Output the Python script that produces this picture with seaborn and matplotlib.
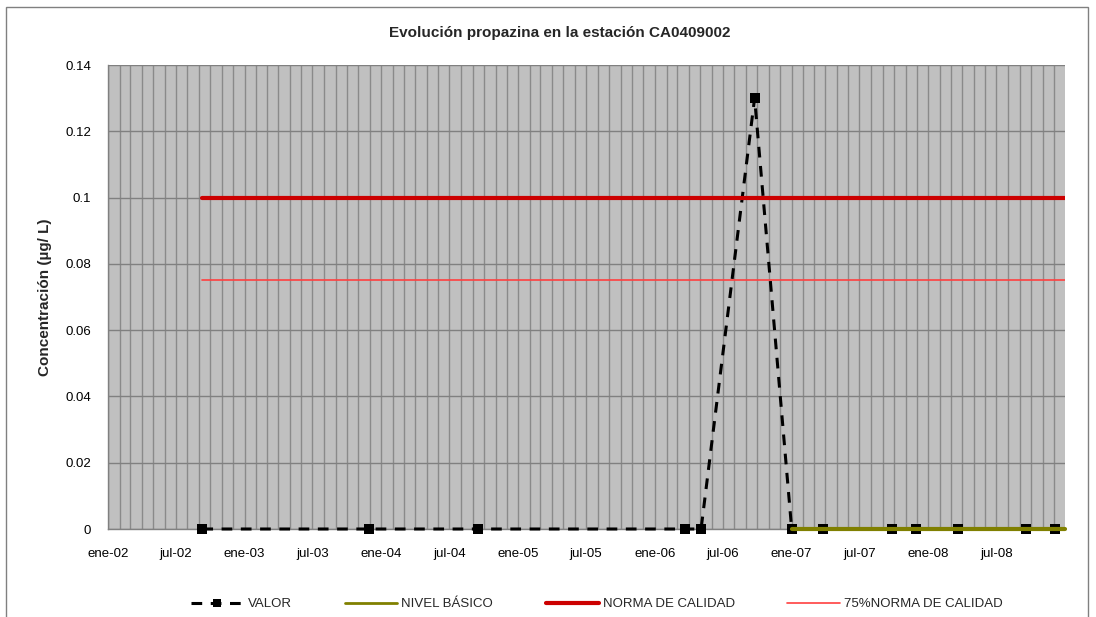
import pandas as pd
import numpy as np
import matplotlib
matplotlib.use('Agg')
import matplotlib.pyplot as plt
import matplotlib.dates as mdates
from matplotlib.patches import Rectangle
from matplotlib.lines import Line2D
import seaborn as sns

# datos
fechas_valor = ['2002-09-10', '2003-11-29', '2004-09-15', '2006-03-23', '2006-05-04',
                '2006-09-24', '2007-01-01', '2007-03-25', '2007-09-25', '2007-11-29',
                '2008-03-21', '2008-09-18', '2008-12-05']
valor = [0, 0, 0, 0, 0, 0.13, 0, 0, 0, 0, 0, 0, 0]

fechas_norma = ['2002-09-10', '2008-12-31']
norma = [0.1, 0.1]
norma_75 = [0.075, 0.075]

fechas_basico = ['2007-01-01', '2008-12-31']
nivel_basico = [0, 0]

ticks_y = [0, 0.02, 0.04, 0.06, 0.08, 0.1, 0.12, 0.14]
etiquetas_y = ['0', '0.02', '0.04', '0.06', '0.08', '0.1', '0.12', '0.14']

df_valor = pd.DataFrame({'fecha': pd.to_datetime(fechas_valor), 'valor': valor})
df_norma = pd.DataFrame({'fecha': pd.to_datetime(fechas_norma), 'norma': norma, 'norma75': norma_75})
df_basico = pd.DataFrame({'fecha': pd.to_datetime(fechas_basico), 'basico': nivel_basico})

sns.set_style('white')
plt.rcParams['font.family'] = ['Liberation Sans', 'DejaVu Sans']

fig = plt.figure(figsize=(10.96, 6.17), dpi=100)
ax = fig.add_axes([108 / 1096, 1 - 529 / 617, (1065 - 108) / 1096, (529 - 65) / 617])
ax.set_facecolor('#C0C0C0')

gris = '#808080'
estilo_valor = (0, (3.5, 2.8))
sns.lineplot(data=df_valor, x='fecha', y='valor', ax=ax, color='black', lw=2.2,
             marker='s', markersize=7, markeredgecolor='black', markeredgewidth=0,
             zorder=3, clip_on=False)
ax.lines[-1].set_linestyle(estilo_valor)
sns.lineplot(data=df_basico, x='fecha', y='basico', ax=ax, color='#808000', lw=3,
             zorder=4, clip_on=False)
sns.lineplot(data=df_norma, x='fecha', y='norma', ax=ax, color='#CC0000', lw=3, zorder=4)
sns.lineplot(data=df_norma, x='fecha', y='norma75', ax=ax, color='#FF4040', lw=1.2, zorder=4)

ax.set_xlim(pd.Timestamp('2002-01-01'), pd.Timestamp('2008-12-31'))
ax.set_ylim(0, 0.14)
ax.set_yticks(ticks_y)
ax.set_yticklabels(etiquetas_y)

ax.xaxis.set_major_locator(mdates.MonthLocator(bymonth=[1, 7]))
ax.xaxis.set_minor_locator(mdates.MonthLocator())
meses = {1: 'ene', 7: 'jul'}
ax.xaxis.set_major_formatter(plt.FuncFormatter(
    lambda v, p: f"{meses[mdates.num2date(v).month]}-{mdates.num2date(v).strftime('%y')}"))

ax.grid(True, which='major', axis='y', color=gris, lw=1, zorder=0)
ax.grid(True, which='both', axis='x', color='#8a8a8a', lw=1, zorder=0)
ax.set_axisbelow(True)

for s in ['top', 'right']:
    ax.spines[s].set_visible(False)
for s in ['left', 'bottom']:
    ax.spines[s].set_color(gris)
    ax.spines[s].set_linewidth(1)

ax.tick_params(axis='both', which='major', direction='out', length=5, color=gris,
               labelsize=9.5, labelcolor='black', pad=7)
ax.tick_params(axis='x', which='minor', length=0)
ax.tick_params(axis='x', which='major', pad=9)

ax.set_xlabel('')
ax.set_ylabel('Concentración (µg/ L)', fontsize=11, fontweight='bold', labelpad=10)
fig.text(560 / 1096, 1 - 33 / 617, 'Evolución propazina en la estación CA0409002',
         ha='center', va='center', fontsize=11, fontweight='bold')

# borde exterior del gráfico
fig.patches.append(Rectangle((6 / 1096, -0.05), (1088 - 6) / 1096, 1.05 - 7 / 617,
                             transform=fig.transFigure, fill=False, edgecolor=gris, lw=1))

handles = [
    Line2D([], [], color='black', lw=2.2, ls=estilo_valor, marker='s', markersize=6,
           markeredgewidth=0),
    Line2D([], [], color='#808000', lw=2),
    Line2D([], [], color='#CC0000', lw=3),
    Line2D([], [], color='#FF4040', lw=1.2),
]
labels = ['VALOR', 'NIVEL BÁSICO', 'NORMA DE CALIDAD', '75%NORMA DE CALIDAD']
fig.legend(handles, labels, loc='center', bbox_to_anchor=(597 / 1096, 1 - 604 / 617),
           ncol=4, frameon=False, fontsize=9.5, handlelength=4, handletextpad=0.3,
           columnspacing=4.0)

fig.savefig('out.png', dpi=100)
